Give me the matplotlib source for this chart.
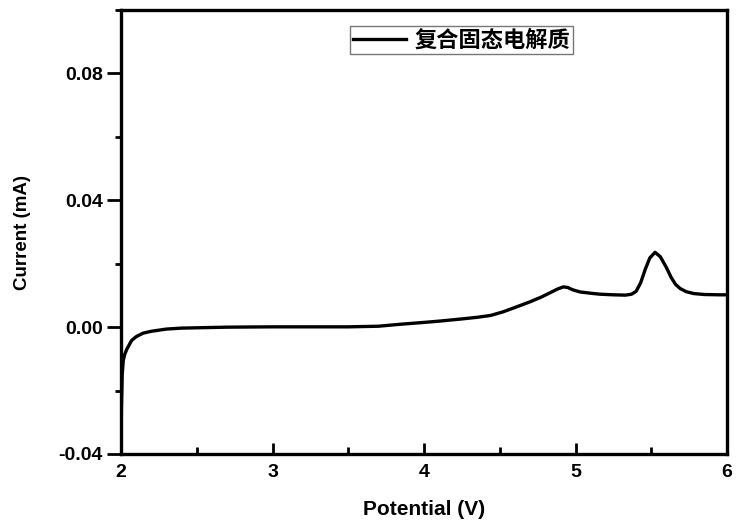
import matplotlib
matplotlib.use('Agg')
import matplotlib.pyplot as plt
from matplotlib.ticker import MultipleLocator

# 電位 (V) 與電流 (mA) 讀圖估計值
potential = [2.0, 2.003, 2.008, 2.015, 2.025, 2.04, 2.07, 2.1, 2.145, 2.2, 2.3, 2.4, 2.5,
             2.7, 3.0, 3.2, 3.5, 3.7, 3.84, 4.0, 4.1, 4.25, 4.35, 4.44, 4.52, 4.6, 4.7,
             4.77, 4.83, 4.88, 4.92, 4.95, 4.98, 5.03, 5.1, 5.16, 5.25, 5.33, 5.37, 5.4,
             5.43, 5.46, 5.49, 5.525, 5.56, 5.6, 5.63, 5.66, 5.69, 5.73, 5.78, 5.85,
             5.95, 6.0]
current = [-0.04, -0.025, -0.015, -0.0105, -0.0085, -0.0068, -0.0042, -0.003, -0.0019,
           -0.0013, -0.0006, -0.0003, -0.0002, 0.0, 0.0001, 0.0001, 0.0001, 0.0003,
           0.0009, 0.0015, 0.0019, 0.0026, 0.0031, 0.0037, 0.0048, 0.0062, 0.008,
           0.0094, 0.0108, 0.012, 0.0127, 0.0125, 0.0118, 0.0111, 0.0107, 0.0104,
           0.0102, 0.0101, 0.0104, 0.0113, 0.014, 0.0182, 0.0218, 0.0236, 0.0222,
           0.0188, 0.0158, 0.0135, 0.0122, 0.0112, 0.0106, 0.0103, 0.0102, 0.0102]

xticks = [2, 3, 4, 5, 6]
yticks = [-0.04, 0.00, 0.04, 0.08]
ytick_labels = ['-0.04', '0.00', '0.04', '0.08']

plt.rcParams['font.family'] = ['Liberation Sans', 'DejaVu Sans']
fig = plt.figure(figsize=(7.36, 5.30), dpi=100)
ax = fig.add_axes([0.1644, 0.1434, 0.8234, 0.8376])

ax.plot(potential, current, color='black', lw=2.4, label='复合固态电解质')

ax.set_xlim(2, 6)
ax.set_ylim(-0.04, 0.10)
ax.set_xticks(xticks)
ax.set_xticklabels([str(v) for v in xticks], fontsize=14, fontweight='bold')
ax.set_yticks(yticks)
ax.set_yticklabels(ytick_labels, fontsize=14, fontweight='bold')
ax.xaxis.set_minor_locator(MultipleLocator(0.5))
ax.yaxis.set_minor_locator(MultipleLocator(0.02))
ax.tick_params(axis='x', which='both', direction='in', width=2, top=False, pad=7)
ax.tick_params(axis='x', which='major', length=8)
ax.tick_params(axis='x', which='minor', length=5)
ax.tick_params(axis='y', which='both', direction='out', width=2, right=False, pad=3)
ax.tick_params(axis='y', which='major', length=10)
ax.tick_params(axis='y', which='minor', length=4)
for s in ax.spines.values():
    s.set_linewidth(2.4)

ax.set_xlabel('Potential (V)', fontsize=15, fontweight='bold', labelpad=14)
ax.set_ylabel('Current (mA)', fontsize=13.5, fontweight='bold', labelpad=20)

leg = ax.legend(loc='upper left', bbox_to_anchor=(0.378, 0.964), fancybox=False,
                frameon=True, handlelength=2.4, borderpad=0.12, handletextpad=0.4,
                borderaxespad=0,
                prop={'family': ['Noto Sans CJK SC'], 'size': 16, 'weight': 'bold'})
leg.get_frame().set_edgecolor('#555555')
leg.get_frame().set_linewidth(1.0)

fig.savefig('out.png', dpi=100)
